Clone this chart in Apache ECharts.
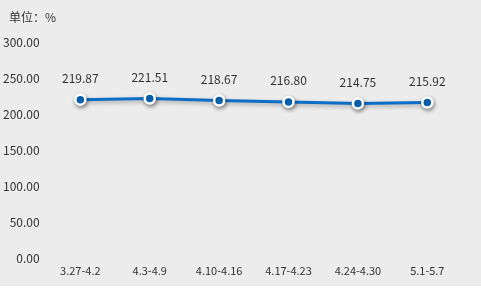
<!DOCTYPE html>
<html><head><meta charset="utf-8">
<script src="https://cdn.jsdelivr.net/npm/echarts@6/dist/echarts.min.js"></script>
<style>html,body{margin:0;padding:0;background:#fff;}#c{width:481px;height:286px;background:#ececec;}</style>
</head><body><div id="c"></div>
<script>
const categories = ['3.27-4.2','4.3-4.9','4.10-4.16','4.17-4.23','4.24-4.30','5.1-5.7'];
const values = [219.87, 221.51, 218.67, 216.80, 214.75, 215.92];
const unitLabel = '单位：%';
const chart = echarts.init(document.getElementById('c'));
chart.setOption({
  backgroundColor: '#ececec',
  textStyle: {fontFamily: '"Microsoft YaHei","Noto Sans CJK SC",sans-serif'},
  title: {text: unitLabel, left: 4, top: 6, textStyle: {fontSize: 12, fontWeight: 'normal', color: '#333'}},
  grid: {left: 45, right: 19, top: 42, bottom: 28},
  xAxis: {type: 'category', data: categories, boundaryGap: true,
    axisLine: {show: false}, axisTick: {show: false},
    axisLabel: {color: '#333', fontSize: 11, margin: 7}},
  yAxis: {type: 'value', min: 0, max: 300, interval: 50,
    axisLine: {show: false}, axisTick: {show: false}, splitLine: {show: false},
    axisLabel: {color: '#333', fontSize: 12, margin: 6, formatter: v => v.toFixed(2)}},
  series: [{type: 'line', data: values, symbol: 'circle', symbolSize: 10,
    lineStyle: {color: '#0c6ec6', width: 3, shadowColor: 'rgba(0,0,0,0.3)', shadowBlur: 4, shadowOffsetX: 1, shadowOffsetY: 2},
    itemStyle: {color: '#0c6ec6', borderColor: '#fff', borderWidth: 2.5, shadowColor: 'rgba(0,0,0,0.4)', shadowBlur: 4, shadowOffsetX: 1, shadowOffsetY: 2},
    label: {show: true, position: 'top', distance: 9, color: '#333', fontSize: 12, formatter: p => p.value.toFixed(2)}
  }]
});
</script></body></html>
